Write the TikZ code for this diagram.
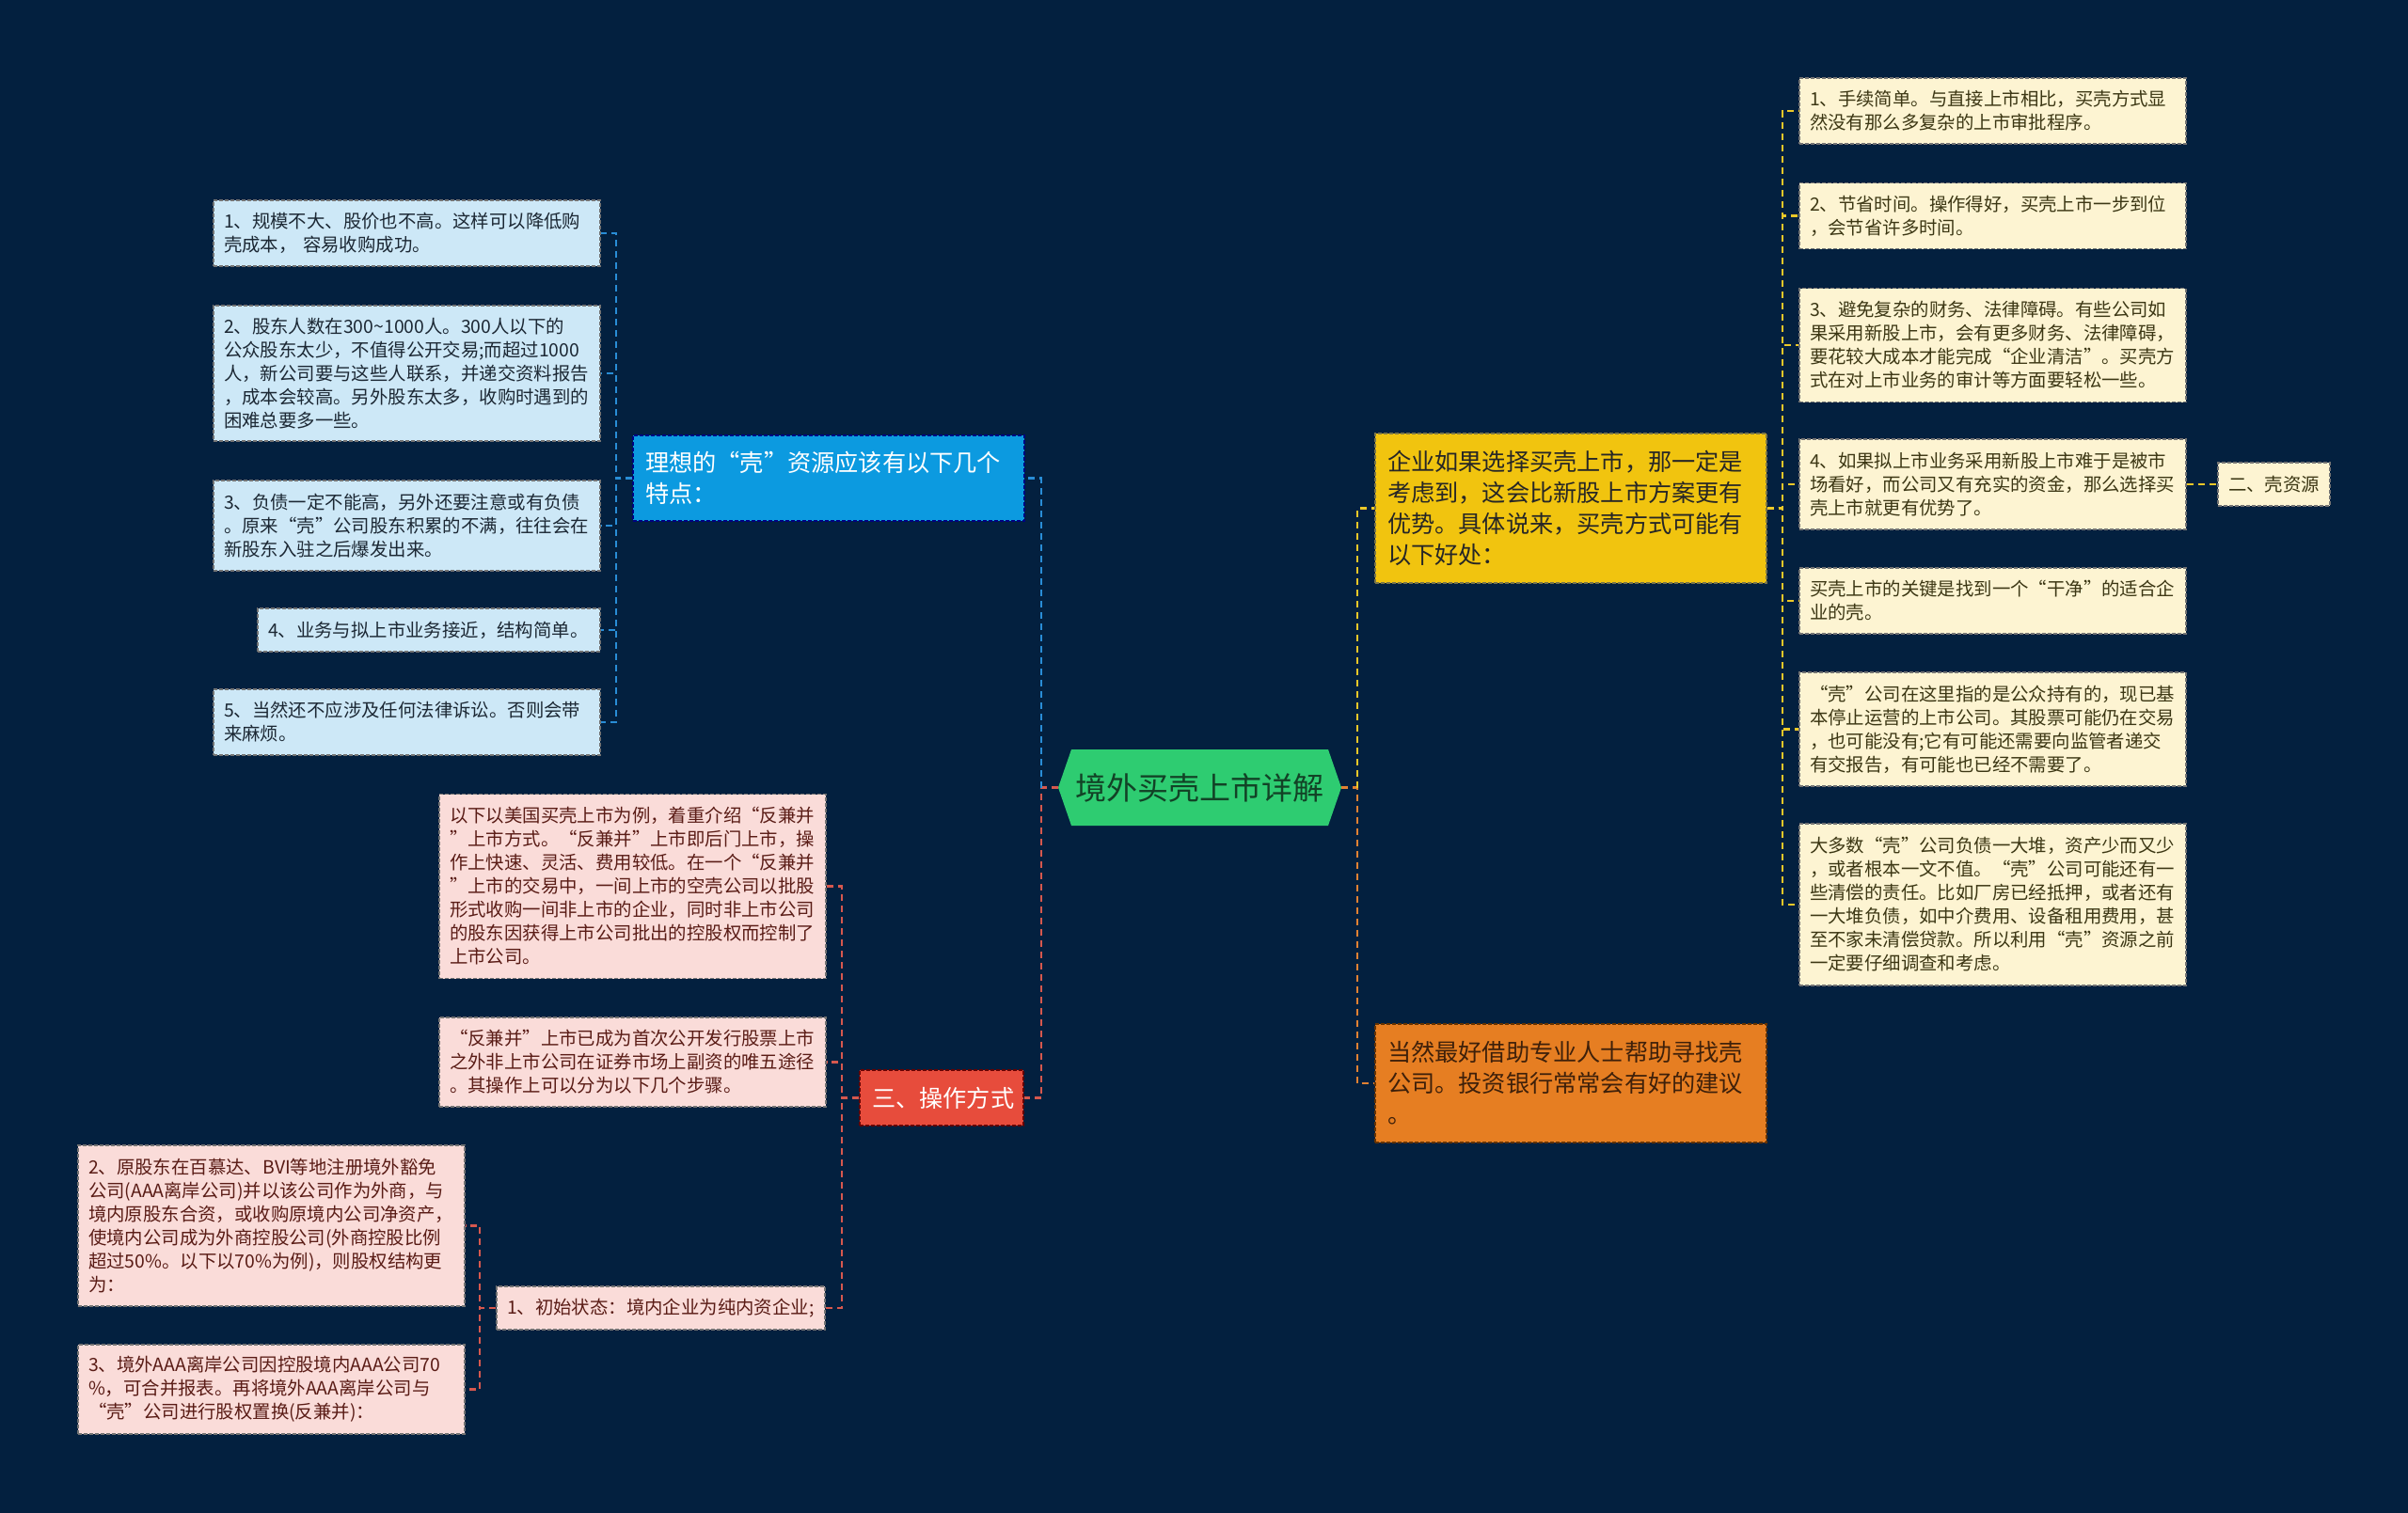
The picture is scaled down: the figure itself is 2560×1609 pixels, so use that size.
\documentclass[tikz,border=0pt]{standalone}
\usepackage{fontspec}
\setmainfont{Noto Sans CJK SC}
\usepackage{xcolor}
\definecolor{bgnavy}{RGB}{3,32,63}
\definecolor{rootg}{RGB}{46,204,113}
\definecolor{roott}{RGB}{18,66,38}
\definecolor{bluebr}{RGB}{12,154,224}
\definecolor{blueln}{RGB}{41,141,214}
\definecolor{blueleaf}{RGB}{205,232,247}
\definecolor{bluetx}{RGB}{28,40,52}
\definecolor{redbr}{RGB}{231,76,60}
\definecolor{redln}{RGB}{214,88,78}
\definecolor{redleaf}{RGB}{250,220,217}
\definecolor{redtx}{RGB}{90,28,22}
\definecolor{yelbr}{RGB}{241,196,15}
\definecolor{yelln}{RGB}{236,200,40}
\definecolor{yelleaf}{RGB}{253,244,210}
\definecolor{yeltx}{RGB}{60,55,20}
\definecolor{orgbr}{RGB}{230,126,34}
\definecolor{orgln}{RGB}{226,130,50}
\definecolor{orgtx}{RGB}{62,32,10}
\tikzset{
  box/.style={rectangle,inner xsep=11pt,inner ysep=0pt,align=left,line width=1.2pt,dash pattern=on 4pt off 2pt,font=\fontsize{19.4}{25}\selectfont},
  bleaf/.style={box,fill=blueleaf,draw=black!55,text=bluetx,text width=389pt},
  rleaf/.style={box,fill=redleaf,draw=black!55,text=redtx,text width=389pt},
  yleaf/.style={box,fill=yelleaf,draw=black!55,text=yeltx,text width=389pt},
  branch/.style={rectangle,inner xsep=13pt,inner ysep=0pt,align=left,line width=1.2pt,dash pattern=on 4pt off 2pt,font=\fontsize{25.2}{33}\selectfont,text width=390pt},
  conn/.style={line width=2.6pt,dash pattern=on 7pt off 5pt},
  bconn/.style={conn,draw=blueln},
  rconn/.style={conn,draw=redln},
  yconn/.style={conn,draw=yelln},
  oconn/.style={conn,draw=orgln},
}
\begin{document}
\begin{tikzpicture}[x=1pt,y=-1pt]
\useasboundingbox (0,0) rectangle (2560,1609);
\fill[bgnavy] (0,0) rectangle (2560,1609);
% root
\fill[rootg] (1125,837.5) -- (1139,797) -- (1412,797) -- (1426,837.5) -- (1412,878) -- (1139,878) -- cycle;
\node[font=\fontsize{33}{40}\selectfont,text=roott,minimum width=301,minimum height=81,inner sep=0pt] (root) at (1275.5,837.5) {境外买壳上市详解};
% left side
\node[branch,fill=bluebr,draw=blue!50!black,text=white,minimum height=91] (blue) at (881,508.5) {理想的“壳”资源应该有以下几个\\特点：};
\node[branch,fill=redbr,draw=red!40!black,text=white,text width=148pt,align=center,minimum height=59] (ops) at (1001,1167.5) {三、操作方式};
\node[bleaf,minimum height=70] (b1) at (432.5,248) {1、规模不大、股价也不高。这样可以降低购\\壳成本， 容易收购成功。};
\node[bleaf,minimum height=144] (b2) at (432.5,397) {2、股东人数在300\textasciitilde1000人。300人以下的\\公众股东太少，不值得公开交易;而超过1000\\人，新公司要与这些人联系，并递交资料报告\\，成本会较高。另外股东太多，收购时遇到的\\困难总要多一些。};
\node[bleaf,minimum height=96] (b3) at (432.5,559) {3、负债一定不能高，另外还要注意或有负债\\。原来“壳”公司股东积累的不满，往往会在\\新股东入驻之后爆发出来。};
\node[bleaf,text width=342pt,minimum height=46] (b4) at (456,670) {4、业务与拟上市业务接近，结构简单。};
\node[bleaf,minimum height=70] (b5) at (432.5,768) {5、当然还不应涉及任何法律诉讼。否则会带\\来麻烦。};
\node[rleaf,minimum height=196] (rA) at (672.5,942.5) {以下以美国买壳上市为例，着重介绍“反兼并\\”上市方式。“反兼并”上市即后门上市，操\\作上快速、灵活、费用较低。在一个“反兼并\\”上市的交易中，一间上市的空壳公司以批股\\形式收购一间非上市的企业，同时非上市公司\\的股东因获得上市公司批出的控股权而控制了\\上市公司。};
\node[rleaf,minimum height=95] (rB) at (672.5,1129.5) {“反兼并”上市已成为首次公开发行股票上市\\之外非上市公司在证券市场上副资的唯五途径\\。其操作上可以分为以下几个步骤。};
\node[rleaf,text width=327pt,minimum height=46] (rC) at (702.5,1391) {1、初始状态：境内企业为纯内资企业;};
\node[rleaf,minimum height=171] (rD) at (288.5,1303.5) {2、原股东在百慕达、BVI等地注册境外豁免\\公司(AAA离岸公司)并以该公司作为外商，与\\境内原股东合资，或收购原境内公司净资产，\\使境内公司成为外商控股公司(外商控股比例\\超过50\%。以下以70\%为例)，则股权结构更\\为：};
\node[rleaf,minimum height=95] (rE) at (288.5,1477.5) {3、境外AAA离岸公司因控股境内AAA公司70\\\%，可合并报表。再将境外AAA离岸公司与\\“壳”公司进行股权置换(反兼并)：};
% right side
\node[branch,fill=yelbr,draw=yellow!40!black,text=black!85,minimum height=159] (ybr) at (1670,540.5) {企业如果选择买壳上市，那一定是\\考虑到，这会比新股上市方案更有\\优势。具体说来，买壳方式可能有\\以下好处：};
\node[branch,fill=orgbr,draw=orange!40!black,text=orgtx,minimum height=126] (orng) at (1670,1152) {当然最好借助专业人士帮助寻找壳\\公司。投资银行常常会有好的建议\\。};
\node[yleaf,minimum height=70] (r1) at (2118.5,118) {1、手续简单。与直接上市相比，买壳方式显\\然没有那么多复杂的上市审批程序。};
\node[yleaf,minimum height=70] (r2) at (2118.5,229.5) {2、节省时间。操作得好，买壳上市一步到位\\，会节省许多时间。};
\node[yleaf,minimum height=121] (r3) at (2118.5,367) {3、避免复杂的财务、法律障碍。有些公司如\\果采用新股上市，会有更多财务、法律障碍，\\要花较大成本才能完成“企业清洁”。买壳方\\式在对上市业务的审计等方面要轻松一些。};
\node[yleaf,minimum height=96] (r4) at (2118.5,515) {4、如果拟上市业务采用新股上市难于是被市\\场看好，而公司又有充实的资金，那么选择买\\壳上市就更有优势了。};
\node[yleaf,minimum height=70] (r5) at (2118.5,639) {买壳上市的关键是找到一个“干净”的适合企\\业的壳。};
\node[yleaf,minimum height=121] (r6) at (2118.5,775.5) {“壳”公司在这里指的是公众持有的，现已基\\本停止运营的上市公司。其股票可能仍在交易\\，也可能没有;它有可能还需要向监管者递交\\有交报告，有可能也已经不需要了。};
\node[yleaf,minimum height=172] (r7) at (2118.5,962) {大多数“壳”公司负债一大堆，资产少而又少\\，或者根本一文不值。“壳”公司可能还有一\\些清偿的责任。比如厂房已经抵押，或者还有\\一大堆负债，如中介费用、设备租用费用，甚\\至不家未清偿贷款。所以利用“壳”资源之前\\一定要仔细调查和考虑。};
\node[yleaf,text width=97pt,minimum height=46] (shell) at (2417.5,515) {二、壳资源};
% connectors
\coordinate (lc) at (1107,837.5);
\coordinate (lb) at (655,508.5);
\coordinate (rb) at (895,1167.5);
\coordinate (sb) at (510,1391);
\coordinate (rc) at (1443,837.5);
\coordinate (yb) at (1895,540.5);
\draw[rconn] (root.west) -- (lc) |- (ops.east);
\draw[bconn] (lc) |- (blue.east);
\foreach \n in {b1,b2,b3,b4,b5} \draw[bconn] (blue.west) -- (lb) |- (\n.east);
\foreach \n in {rA,rB,rC} \draw[rconn] (ops.west) -- (rb) |- (\n.east);
\foreach \n in {rD,rE} \draw[rconn] (rC.west) -- (sb) |- (\n.east);
\draw[oconn] (root.east) -- (rc) |- (orng.west);
\draw[yconn] (rc) |- (ybr.west);
\foreach \n in {r1,r2,r3,r4,r5,r6,r7} \draw[yconn] (ybr.east) -- (yb) |- (\n.west);
\draw[yconn] (r4.east) -- (shell.west);
\end{tikzpicture}
\end{document}
